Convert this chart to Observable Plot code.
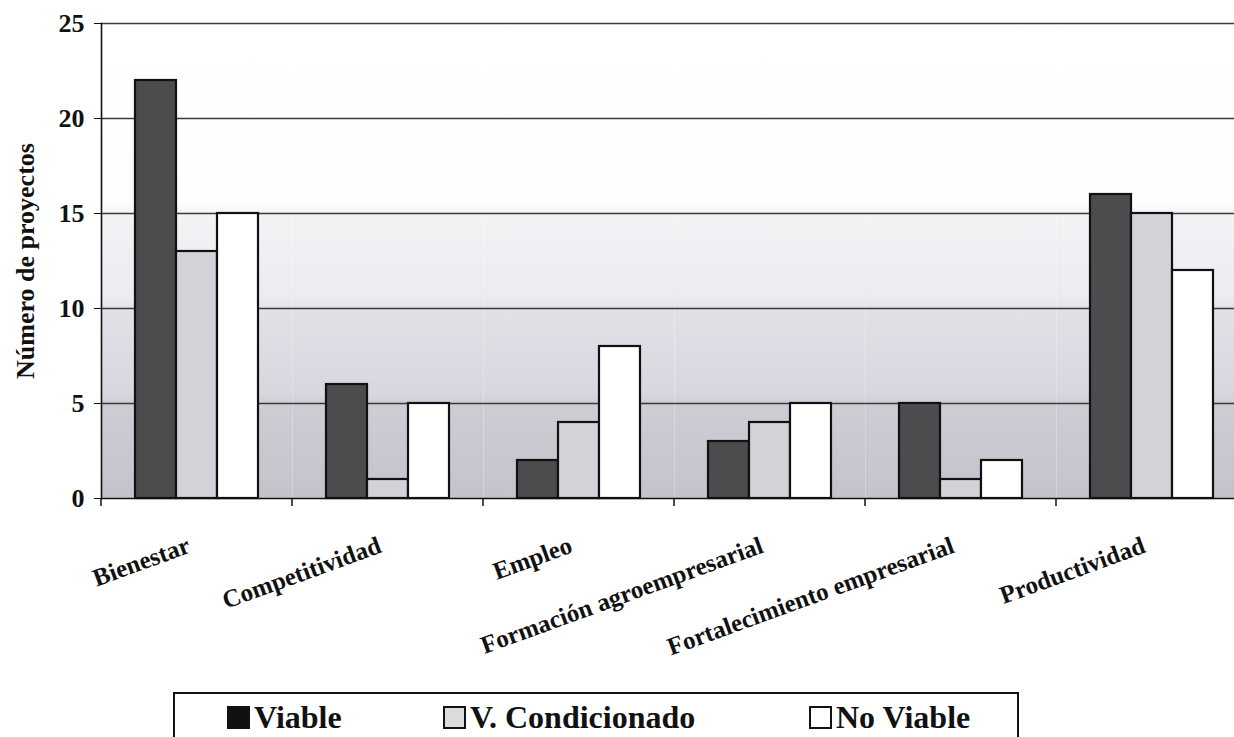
<!DOCTYPE html>
<html><head><meta charset="utf-8">
<script src="https://cdn.jsdelivr.net/npm/d3@7"></script>
<script src="https://cdn.jsdelivr.net/npm/@observablehq/plot@0.6"></script>
<style>
body{margin:0;background:#fff;overflow:hidden;font-family:"Liberation Serif","Times New Roman",serif;}
#chart{position:absolute;left:0;top:0;}
#chart svg, #chart svg text{font-family:"Liberation Serif","Times New Roman",serif !important;}
#legend{position:absolute;left:173px;top:692px;width:846px;height:70px;border:2px solid #111;box-sizing:border-box;background:#fff;}
.item{position:absolute;top:7px;display:flex;align-items:center;font-weight:bold;font-size:32px;color:#111;line-height:1;}
.sw{width:23px;height:23px;box-sizing:border-box;margin-right:4px;border:2px solid #111;}
</style></head><body>
<div id="chart"></div>
<div id="legend"></div>
<script>
const categories = ["Bienestar","Competitividad","Empleo","Formación agroempresarial","Fortalecimiento empresarial","Productividad"];
const series = ["Viable","V. Condicionado","No Viable"];
const viable = [22,6,2,3,5,16];
const condicionado = [13,1,4,4,1,15];
const noViable = [15,5,8,5,2,12];
const yTicks = [0,5,10,15,20,25];
const fills = ["#4c4c4f","#d2d2d9","#ffffff"];
const legendFills = ["#111111","#dcdcdc","#ffffff"];

const seriesValues = [viable, condicionado, noViable];
const rows = categories.flatMap((c, i) => series.map((s, j) => ({categoria: c, serie: s, valor: seriesValues[j][i]})));

function boundaryTicks(index, scales, values, dimensions) {
  const {marginLeft, marginBottom, height} = dimensions;
  const y0 = height - marginBottom;
  const g = d3.create("svg:g");
  g.append("line").attr("x1", marginLeft).attr("x2", marginLeft)
    .attr("y1", y0).attr("y2", y0 + 8).attr("stroke", "#111").attr("stroke-width", 1.5);
  return g.node();
}

const serif = "'Liberation Serif', 'Times New Roman', serif";

const chart = Plot.plot({
  width: 1247, height: 680,
  marginLeft: 101, marginRight: 0, marginTop: 23, marginBottom: 182,
  style: {fontFamily: serif, fontWeight: "bold", color: "#111", background: "transparent", maxWidth: "none", overflow: "visible"},
  fx: {domain: categories, paddingInner: 0, paddingOuter: 0, label: null, axis: null},
  x: {domain: series, paddingInner: 0, paddingOuter: 0.774, axis: null},
  y: {domain: [0, 25], label: null, axis: null},
  color: {domain: series, range: fills},
  marks: [
    Plot.frame({fill: "url(#fondo)", stroke: null}),
    Plot.gridY(yTicks.slice(1), {stroke: "#3c3c36", strokeOpacity: 1, strokeWidth: 1.3}),
    Plot.barY(rows, {fx: "categoria", x: "serie", y: "valor", fill: "serie", stroke: "#111", strokeWidth: 2.2}),
    Plot.ruleY([0], {stroke: "#111", strokeWidth: 1.6}),
    Plot.frame({anchor: "left", facetAnchor: "left", stroke: "#111", strokeWidth: 1.6}),
    boundaryTicks,
    Plot.axisY(yTicks, {tickSize: 7, tickPadding: 10, fontSize: 26, stroke: "#111", fill: "#111", fontFamily: serif,
      label: "Número de proyectos", labelAnchor: "center", labelOffset: 86, labelArrow: false}),
    Plot.axisFx({anchor: "bottom", tickSize: 0, tickRotate: -20, tickPadding: 46, fontSize: 25, label: null, dx: -8, fill: "#111", fontFamily: serif})
  ]
});

const svg = d3.select(chart);
const defs = svg.insert("defs", ":first-child");
const grad = defs.append("linearGradient").attr("id", "fondo").attr("x1", 0).attr("y1", 0).attr("x2", 0).attr("y2", 1);
[[0, "#ffffff"], [0.38, "#fdfdfe"], [0.40, "#f3f3f6"], [0.58, "#ebebf0"], [0.60, "#e1e1e8"], [0.78, "#d7d7df"], [0.80, "#cdcdd5"], [1, "#c3c3cb"]]
  .forEach(([o, c]) => grad.append("stop").attr("offset", o).attr("stop-color", c));

document.getElementById("chart").appendChild(chart);

const legendPos = [[52, 79], [268, 295], [634, 663]];
const legend = document.getElementById("legend");
series.forEach((s, i) => {
  const item = document.createElement("div");
  item.className = "item";
  item.style.left = legendPos[i][0] + "px";
  const sw = document.createElement("span");
  sw.className = "sw";
  sw.style.background = legendFills[i];
  const t = document.createElement("span");
  t.textContent = s;
  item.appendChild(sw); item.appendChild(t);
  legend.appendChild(item);
});
</script>
</body></html>
